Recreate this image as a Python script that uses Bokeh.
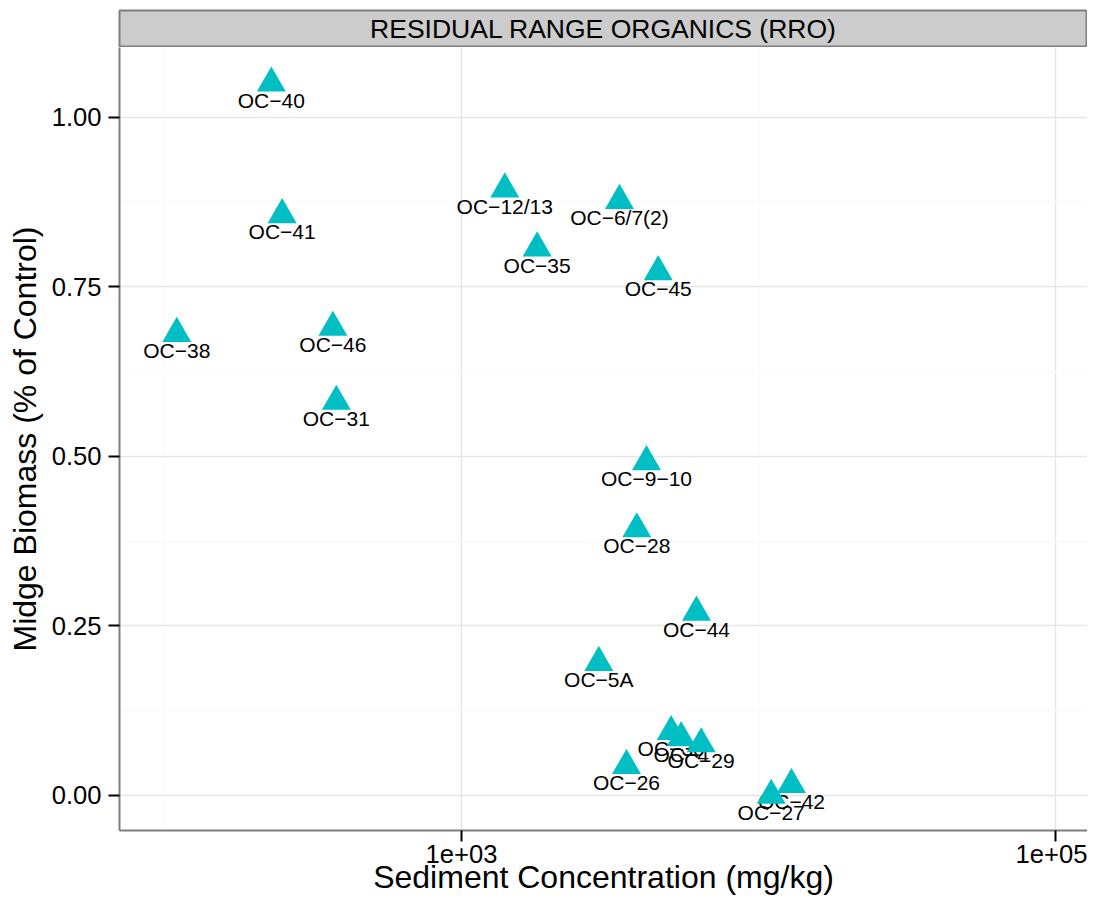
from bokeh.plotting import figure
from bokeh.models import (ColumnDataSource, Range1d, FixedTicker, PrintfTickFormatter)
from bokeh.layouts import column
from bokeh.core.properties import value
from bokeh.embed import file_html
from bokeh.resources import INLINE

# ---- data ----
samples = ["OC-40", "OC-41", "OC-38", "OC-46", "OC-31", "OC-12/13", "OC-6/7(2)",
           "OC-35", "OC-45", "OC-9-10", "OC-28", "OC-44", "OC-5A", "OC-26",
           "OC-30", "OC-4", "OC-29", "OC-27", "OC-42"]
concentration = [229, 249, 110, 369, 379, 1399, 3404,
                 1798, 4596, 4197, 3893, 6183, 2900, 3594,
                 5083, 5492, 6413, 11036, 12915]
biomass = [1.050, 0.856, 0.681, 0.690, 0.581, 0.894, 0.877,
           0.807, 0.772, 0.492, 0.393, 0.270, 0.196, 0.044,
           0.094, 0.085, 0.076, 0.000, 0.016]
x_ticks = [1e3, 1e5]
x_tick_labels = ["1e+03", "1e+05"]
x_minor = [1e2, 1e4]
y_ticks = [0.0, 0.25, 0.5, 0.75, 1.0]
y_minor = [0.125, 0.375, 0.625, 0.875]
facet = "RESIDUAL RANGE ORGANICS (RRO)"

FONT = "Liberation Sans"
TEAL = "#00BFC4"
LEFT = 119

src = ColumnDataSource(dict(
    x=concentration, y=biomass,
    label=[s.replace("-", "\u2212") for s in samples],
))

# ---- strip (facet header) ----
strip = figure(width=1087, height=47, x_range=Range1d(0, 1), y_range=Range1d(0, 1),
               output_backend="svg", toolbar_location=None,
               min_border_left=LEFT, min_border_right=0, min_border_top=10, min_border_bottom=0)
strip.axis.visible = False
strip.grid.visible = False
strip.background_fill_color = "#CCCCCC"
strip.border_fill_color = "white"
strip.outline_line_color = "#7F7F7F"
strip.outline_line_width = 2
strip.text(x=[0.5], y=[0.5], text=[facet], text_align="center", text_baseline="middle",
           text_font=value(FONT), text_font_size=value("26.5px"), text_color="black")

# ---- main panel ----
p = figure(width=1087, height=851, x_axis_type="log",
           x_range=Range1d(70.56, 128200), y_range=Range1d(-0.0516, 1.1027),
           output_backend="svg", toolbar_location=None,
           min_border_left=LEFT, min_border_right=0, min_border_top=0, min_border_bottom=68)
p.background_fill_color = "white"
p.border_fill_color = "white"
p.outline_line_color = None

p.xaxis.ticker = FixedTicker(ticks=x_ticks, minor_ticks=x_minor)
p.xaxis.major_label_overrides = {t: l for t, l in zip(x_ticks, x_tick_labels)}
p.yaxis.ticker = FixedTicker(ticks=y_ticks, minor_ticks=y_minor)
p.yaxis.formatter = PrintfTickFormatter(format="%.2f")

for ax in (p.xaxis, p.yaxis):
    ax.axis_line_color = "#7F7F7F"
    ax.axis_line_width = 2
    ax.major_tick_line_color = "black"
    ax.major_tick_line_width = 2
    ax.major_tick_out = 11
    ax.major_tick_in = 0
    ax.minor_tick_line_color = None
    ax.major_label_text_font = FONT
    ax.major_label_text_font_size = "25.6px"
    ax.major_label_text_color = "black"
    ax.axis_label_text_font = FONT
    ax.axis_label_text_font_size = "32px"
    ax.axis_label_text_font_style = "normal"
    ax.axis_label_text_color = "black"

p.xaxis.axis_label = "Sediment Concentration (mg/kg)"
p.yaxis.axis_label = "Midge Biomass (% of Control)"
p.xaxis.major_label_standoff = 3
p.xaxis.axis_label_standoff = -7
p.yaxis.major_label_standoff = 7
p.yaxis.axis_label_standoff = 6

p.grid.grid_line_color = "#E5E5E5"
p.grid.grid_line_width = 1.5
p.grid.minor_grid_line_color = "#FAFAFA"
p.grid.minor_grid_line_width = 1.5

# labels first, triangles drawn on top (as in the reference)
p.text(x="x", y="y", text="label", source=src, text_align="center",
       text_baseline="alphabetic", y_offset=17,
       text_font=value(FONT), text_font_size=value("21px"), text_color="black")
p.scatter(x="x", y="y", source=src, marker="triangle", size=29,
          fill_color=TEAL, line_color=None)

layout = column(strip, p, spacing=0)
open("out.html", "w").write(file_html(layout, INLINE))
